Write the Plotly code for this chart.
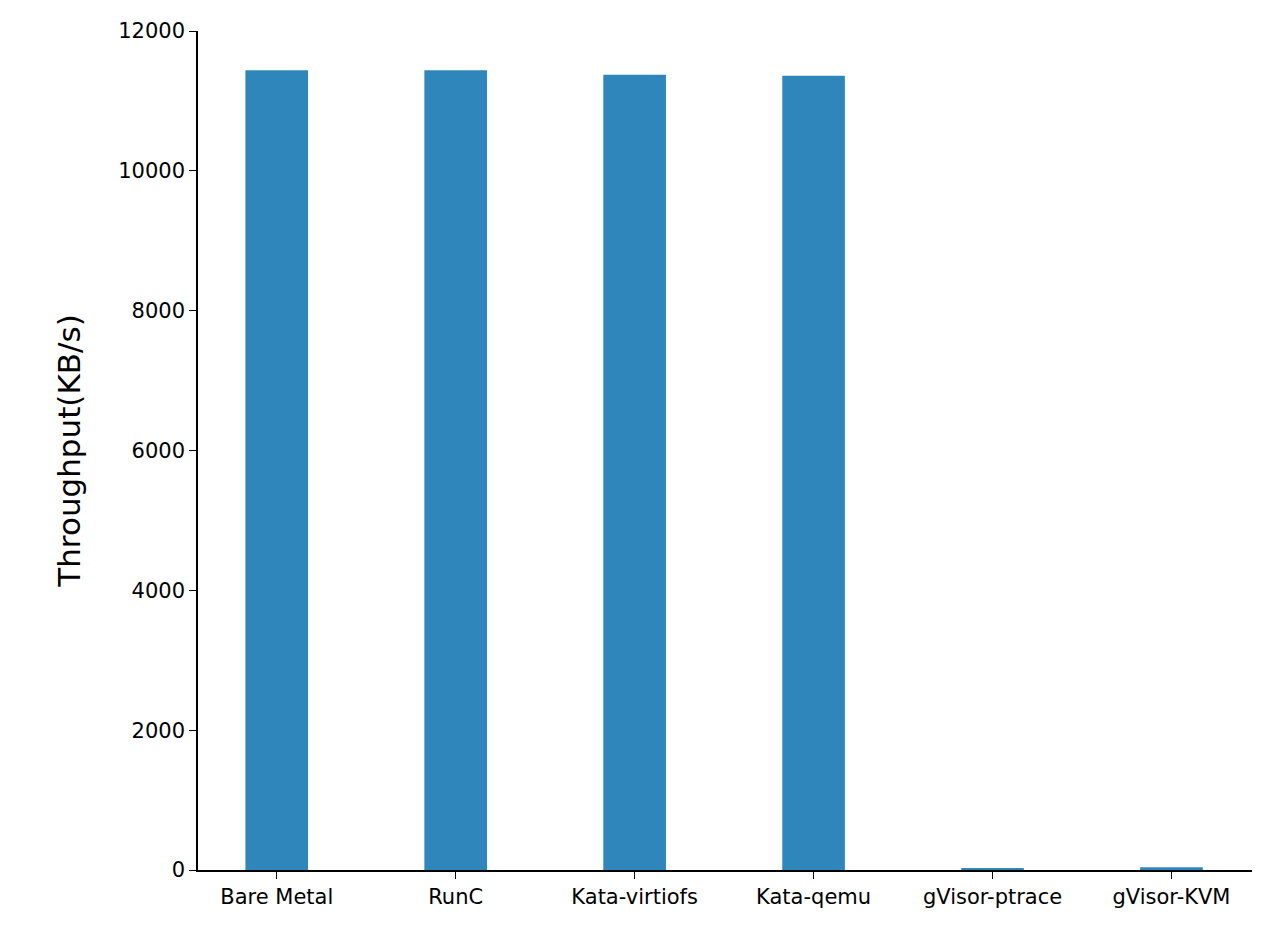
import plotly.graph_objects as go

categories = ['Bare Metal', 'RunC', 'Kata-virtiofs', 'Kata-qemu', 'gVisor-ptrace', 'gVisor-KVM']
throughput = [11440, 11440, 11375, 11360, 25, 40]

fig = go.Figure(go.Bar(
    x=categories,
    y=throughput,
    width=0.35,
    marker={'color': '#2e86bb', 'line': {'width': 0}},
))

# page adds ~8px body margin, so margins are shifted to compensate
fig.update_layout(
    width=1280,
    height=939,
    plot_bgcolor='white',
    paper_bgcolor='white',
    margin={'l': 190, 'r': 36, 't': 23, 'b': 77},
    font={'family': 'DejaVu Sans', 'color': 'black', 'size': 21},
    showlegend=False,
)
fig.update_xaxes(
    range=[-0.44, 5.45],
    showline=True, linecolor='black', linewidth=1.5,
    ticks='outside', ticklen=7, tickcolor='black',
    showgrid=False,
)
fig.update_yaxes(
    range=[0, 12000],
    tickvals=[0, 2000, 4000, 6000, 8000, 10000, 12000],
    tickformat='d',
    showline=True, linecolor='black', linewidth=1.5,
    ticks='outside', ticklen=7, tickcolor='black',
    showgrid=False, zeroline=False,
    title={'text': 'Throughput(KB/s)', 'font': {'size': 31}, 'standoff': 28},
)

fig.write_html('out.html')
